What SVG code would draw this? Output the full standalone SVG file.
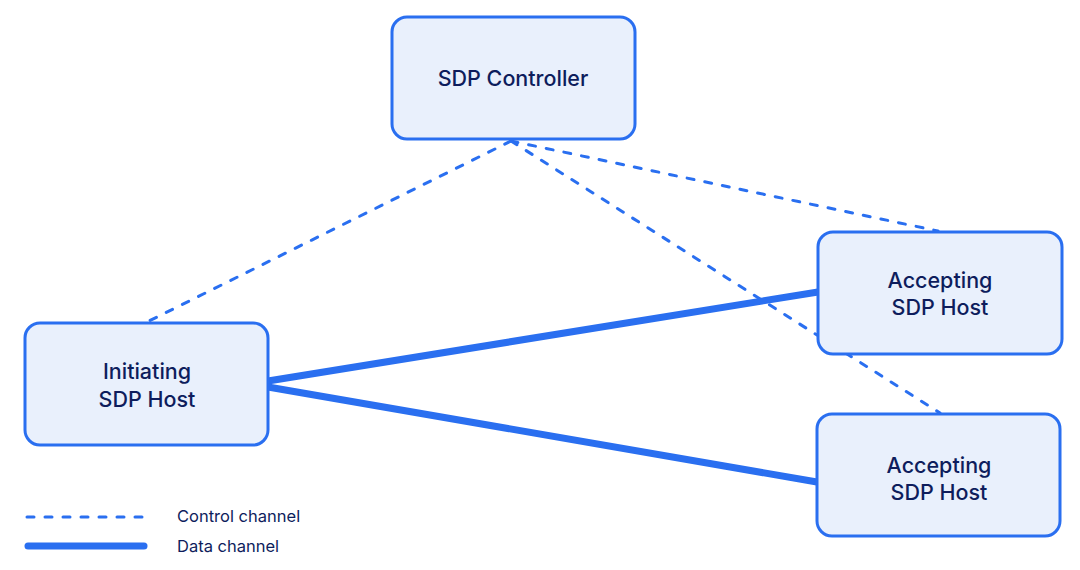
<svg xmlns="http://www.w3.org/2000/svg" width="1080" height="570" viewBox="0 0 1080 570">
<style>
.box{fill:#e9f0fc;stroke:#2a6ff0;stroke-width:3}
.lbl{font-family:Inter,"Noto Sans",sans-serif;font-size:21.5px;font-weight:500;fill:#0e1d5c;text-anchor:middle}
.leg{font-family:Inter,"Noto Sans",sans-serif;font-size:16.5px;fill:#0e1d5c}
.ctrl{stroke:#2a6ff0;stroke-width:3;stroke-dasharray:7 11;stroke-linecap:round;fill:none}
.data{stroke:#2a6ff0;stroke-width:7;stroke-linecap:round;fill:none}
</style>
<rect width="1080" height="570" fill="#ffffff"/>
<g id="connectors">
<line class="ctrl" x1="511" y1="141" x2="147" y2="322"/>
<line class="ctrl" x1="511" y1="141" x2="938" y2="231"/>
<line class="ctrl" x1="511" y1="141" x2="940" y2="413"/>
<line class="data" x1="268" y1="381" x2="818" y2="292" stroke-linecap="butt"/>
<line class="data" x1="268" y1="387" x2="817" y2="482" stroke-linecap="butt"/>
</g>
<g id="controller">
<rect class="box" x="392" y="17" width="243" height="122" rx="15"/>
<text class="lbl" x="513" y="86">SDP Controller</text>
</g>
<g id="initiating">
<rect class="box" x="25" y="323" width="243" height="122" rx="15"/>
<text class="lbl" x="147" y="379">Initiating</text>
<text class="lbl" x="147" y="407">SDP Host</text>
</g>
<g id="accepting1">
<rect class="box" x="818" y="232" width="244" height="122" rx="15"/>
<text class="lbl" x="940" y="288">Accepting</text>
<text class="lbl" x="940" y="315">SDP Host</text>
</g>
<g id="accepting2">
<rect class="box" x="817" y="414" width="243" height="122" rx="15"/>
<text class="lbl" x="939" y="473">Accepting</text>
<text class="lbl" x="939" y="500">SDP Host</text>
</g>
<g id="legend">
<line class="ctrl" x1="27" y1="517" x2="145" y2="517" stroke-dasharray="6 18"/>
<line class="data" x1="28" y1="546" x2="144" y2="546"/>
<text class="leg" x="177" y="522">Control channel</text>
<text class="leg" x="177" y="552">Data channel</text>
</g>
</svg>
